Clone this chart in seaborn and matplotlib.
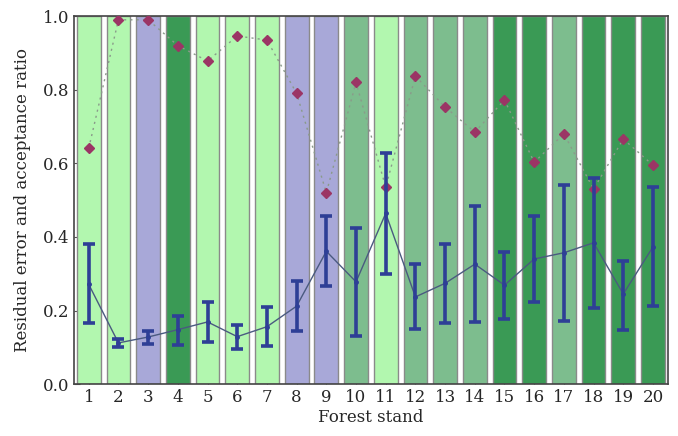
import matplotlib
matplotlib.use("Agg")
import matplotlib.pyplot as plt
import seaborn as sns
import numpy as np
import pandas as pd

stands = [str(i) for i in range(1, 21)]
stand_type = ["light", "light", "purple", "dark", "light", "light", "light", "purple", "purple", "medium",
              "light", "medium", "medium", "medium", "dark", "dark", "medium", "dark", "dark", "dark"]
acceptance = [0.641, 0.99, 0.99, 0.92, 0.878, 0.946, 0.935, 0.79, 0.52, 0.82,
              0.535, 0.837, 0.753, 0.685, 0.772, 0.603, 0.68, 0.53, 0.666, 0.595]
residual_mean = [0.271, 0.112, 0.128, 0.148, 0.169, 0.129, 0.156, 0.212, 0.361, 0.278,
                 0.464, 0.237, 0.274, 0.326, 0.269, 0.34, 0.357, 0.384, 0.245, 0.373]
residual_low = [0.165, 0.10, 0.11, 0.105, 0.115, 0.096, 0.103, 0.145, 0.267, 0.13,
                0.299, 0.151, 0.165, 0.169, 0.176, 0.222, 0.171, 0.208, 0.147, 0.212]
residual_high = [0.38, 0.122, 0.143, 0.185, 0.222, 0.16, 0.21, 0.28, 0.457, 0.423,
                 0.628, 0.326, 0.382, 0.484, 0.36, 0.457, 0.54, 0.56, 0.334, 0.535]

type_colors = {"light": "#b2f7af", "purple": "#a8a8d8", "dark": "#3a9a55", "medium": "#7dbd8e"}

sns.set_style("ticks")
plt.rcParams['font.family'] = ['DejaVu Serif']

fig = plt.figure(figsize=(6.78, 4.36), dpi=100)
ax = fig.add_axes([0.109, 0.119, 0.876, 0.844])

df = pd.DataFrame({"stand": stands, "height": [1.0] * len(stands), "type": stand_type})
palette = [type_colors[t] for t in stand_type]
sns.barplot(data=df, x="stand", y="height", hue="stand", palette=palette, legend=False,
            saturation=1, width=0.8, edgecolor="#8a8a8a", linewidth=1.0, ax=ax, zorder=1)

pos = np.arange(len(stands))
ax.plot(pos, acceptance, linestyle=(0, (1.5, 3)), color="#8a9a8a", linewidth=1.0, zorder=2)
ax.plot(pos, acceptance, linestyle="none", marker="D", markersize=5, color="#9b3565",
        markeredgecolor="#9b3565", zorder=4)

mean = np.array(residual_mean)
yerr = np.vstack([mean - np.array(residual_low), np.array(residual_high) - mean])
ax.plot(pos, mean, color="#4a5a80", linewidth=1.0, zorder=3)
ax.errorbar(pos, mean, yerr=yerr, fmt="none", ecolor="#2e3f96", elinewidth=2.6,
            capsize=4, capthick=2.6, zorder=5)
ax.plot(pos, mean, linestyle="none", marker="o", markersize=2.5, color="#2e3f96", zorder=5)

ax.set_xlim(-0.5, len(stands) - 0.5)
ax.set_ylim(0, 1.0)
ax.set_yticks([0.0, 0.2, 0.4, 0.6, 0.8, 1.0])
ax.set_yticklabels(["0.0", "0.2", "0.4", "0.6", "0.8", "1.0"])
ax.set_xlabel("Forest stand", fontsize=12, labelpad=2)
ax.set_ylabel("Residual error and acceptance ratio", fontsize=12, labelpad=8)
ax.tick_params(axis="both", labelsize=12, direction="in", length=4, color="#555555")
for s in ax.spines.values():
    s.set_color("#444444")
    s.set_linewidth(1.2)

fig.savefig("out.png", dpi=100)
